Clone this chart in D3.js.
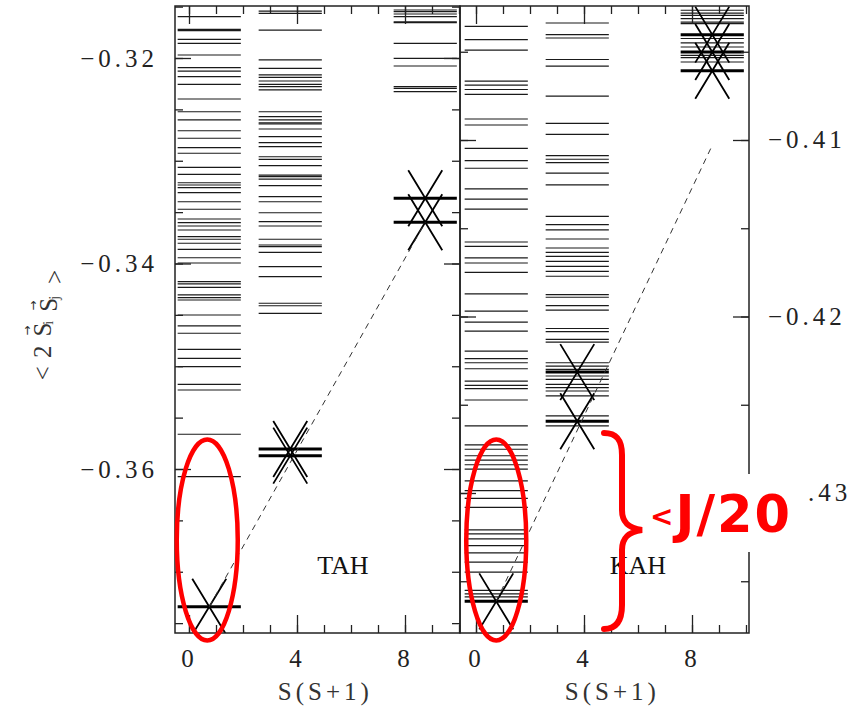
<!DOCTYPE html>
<html lang="en">
<head>
<meta charset="utf-8">
<title>TAH / KAH levels</title>
<script src="https://d3js.org/d3.v7.min.js"></script>
<style>
  body { margin: 0; background: #fff; }
  .eixo text { font-family: "Liberation Serif", "DejaVu Serif", serif; font-size: 25px; letter-spacing: 4px; fill: #222; }
  .nivel { stroke: #1a1a1a; stroke-width: 1.2; }
  .nivel-cruz { stroke: #000; stroke-width: 3; }
  .cruz { stroke: #000; stroke-width: 1.8; fill: none; }
  .reta { stroke: #333; stroke-width: 1; stroke-dasharray: 6,5; fill: none; }
  .moldura { fill: none; stroke: #222; stroke-width: 1.5; }
  .rotulo { font-family: "Liberation Serif", "DejaVu Serif", serif; font-size: 26px; fill: #111; }
  .titulo { font-family: "Liberation Serif", "DejaVu Serif", serif; font-size: 25px; letter-spacing: 4px; fill: #333; }
  .anot { fill: none; stroke: #ff0000; stroke-width: 4.5; }
</style>
</head>
<body>
<div id="chart"></div>
<script>
// S(S+1) for S = 1/2, 3/2, 5/2
var colunasS = [0.75, 3.75, 8.75];

// TAH levels, one list per S column
var tahS0 = [-0.31598, -0.31721, -0.31734, -0.31818, -0.31857, -0.31971, -0.32094, -0.32127, -0.32182, -0.32256,
  -0.32399, -0.32523, -0.32603, -0.32708, -0.32781, -0.32873, -0.32927, -0.33064, -0.33132, -0.33214, -0.33236,
  -0.33262, -0.33311, -0.33399, -0.33472, -0.33567, -0.33603, -0.33635, -0.33674, -0.33739, -0.33764, -0.33803,
  -0.33862, -0.33944, -0.33995, -0.34177, -0.34199, -0.34232, -0.34306, -0.34333, -0.34355, -0.34501, -0.34608,
  -0.34679, -0.34835, -0.34923, -0.35004, -0.35176, -0.35231, -0.35662, -0.36075];
var tahS1 = [-0.31543, -0.31565, -0.31728, -0.32019, -0.32100, -0.32165, -0.32188, -0.32224, -0.32256, -0.32279,
  -0.32311, -0.32523, -0.32571, -0.32603, -0.32630, -0.32642, -0.32691, -0.32766, -0.32824, -0.32863, -0.32961,
  -0.32986, -0.33048, -0.33139, -0.33155, -0.33178, -0.33243, -0.33350, -0.33399, -0.33506, -0.33593, -0.33635,
  -0.33764, -0.33820, -0.33836, -0.33891, -0.34031, -0.34128, -0.34387, -0.34411, -0.34485];
var tahS2 = [-0.31533, -0.31549, -0.31572, -0.31598, -0.31647, -0.31656, -0.31857, -0.32003, -0.32078, -0.32279,
  -0.32295, -0.32328];
// lowest states (crosses) and the dashed line through them
var tahCruzes = [[0.75, -0.37340], [3.75, -0.35805], [3.75, -0.35870], [8.75, -0.33365], [8.75, -0.33599]];
var tahReta = [[0.75, -0.37340], [8.75, -0.33599]];

// KAH levels
var kahS0 = [-0.40356, -0.40431, -0.40491, -0.40667, -0.40689, -0.40714, -0.40742, -0.40881, -0.40915, -0.41047,
  -0.41117, -0.41160, -0.41277, -0.41335, -0.41392, -0.41578, -0.41603, -0.41668, -0.41697, -0.41750, -0.41872,
  -0.41970, -0.42032, -0.42083, -0.42196, -0.42239, -0.42262, -0.42296, -0.42366, -0.42390, -0.42409, -0.42473,
  -0.42620, -0.42727, -0.42752, -0.42789, -0.42814, -0.42840, -0.42865, -0.42931, -0.42987, -0.43030, -0.43081,
  -0.43209, -0.43232, -0.43260, -0.43298, -0.43339, -0.43392, -0.43448, -0.43552, -0.43571, -0.43589];
var kahS1 = [-0.40337, -0.40403, -0.40422, -0.40544, -0.40582, -0.40751, -0.40906, -0.40968, -0.41089, -0.41109,
  -0.41128, -0.41188, -0.41254, -0.41433, -0.41480, -0.41509, -0.41561, -0.41612, -0.41637, -0.41659, -0.41688,
  -0.41716, -0.41744, -0.41772, -0.41876, -0.41891, -0.41938, -0.41964, -0.42068, -0.42086, -0.42130, -0.42145,
  -0.42262, -0.42281, -0.42300, -0.42337, -0.42356, -0.42384, -0.42403, -0.42422, -0.42450, -0.42563, -0.42620];
var kahS2 = [-0.40265, -0.40281, -0.40294, -0.40312, -0.40332, -0.40341, -0.40425, -0.40450, -0.40473, -0.40520,
  -0.40533, -0.40558];
var kahCruzes = [[0.75, -0.43614], [3.75, -0.42315], [3.75, -0.42593], [8.75, -0.40403], [8.75, -0.40501], [8.75, -0.40608]];
var kahReta = [[0.75, -0.43614], [8.75, -0.41030]];

// tick labels
var ticksX = [0, 4, 8];
var tahTicksY = [-0.32, -0.34, -0.36];
var kahTicksY = [-0.41, -0.42, -0.43];

var largura = 860, altura = 711;
var topo = 6, base = 633;
var meiaColuna = 1.17; // half width of a level column, in S(S+1) units

var svg = d3.select('#chart').append('svg')
  .attr('width', largura)
  .attr('height', altura);

var fmt = d3.format('.2f');

function painel(p) {
  var g = svg.append('g');
  var x = d3.scaleLinear().domain(p.dx).range([p.x0, p.x1]);
  var y = d3.scaleLinear().domain(p.dy).range([topo, base]);

  // keep the marks inside the frame
  svg.append('clipPath').attr('id', 'clip-' + p.nome)
    .append('rect')
      .attr('x', p.x0).attr('y', topo)
      .attr('width', p.x1 - p.x0).attr('height', base - topo);
  var marcas = g.append('g').attr('clip-path', 'url(#clip-' + p.nome + ')');

  // energy levels
  p.niveis.forEach(function(lista, i) {
    marcas.append('g').selectAll('line')
      .data(lista)
      .enter().append('line')
        .attr('class', 'nivel')
        .attr('x1', x(colunasS[i] - meiaColuna))
        .attr('x2', x(colunasS[i] + meiaColuna))
        .attr('y1', d => y(d))
        .attr('y2', d => y(d));
  });

  // lowest levels drawn thick, with an X on them
  marcas.append('g').selectAll('line')
    .data(p.cruzes)
    .enter().append('line')
      .attr('class', 'nivel-cruz')
      .attr('x1', d => x(d[0] - meiaColuna))
      .attr('x2', d => x(d[0] + meiaColuna))
      .attr('y1', d => y(d[1]))
      .attr('y2', d => y(d[1]));
  marcas.append('g').selectAll('path')
    .data(p.cruzes)
    .enter().append('path')
      .attr('class', 'cruz')
      .attr('d', function(d) {
        var cx = x(d[0]), cy = y(d[1]), a = 17, b = 28;
        return 'M' + (cx - a) + ',' + (cy - b) + 'L' + (cx + a) + ',' + (cy + b) +
               'M' + (cx + a) + ',' + (cy - b) + 'L' + (cx - a) + ',' + (cy + b);
      });

  marcas.append('path')
    .datum(p.reta)
    .attr('class', 'reta')
    .attr('d', d3.line().x(d => x(d[0])).y(d => y(d[1])));

  // frame
  g.append('rect')
    .attr('class', 'moldura')
    .attr('x', p.x0).attr('y', topo)
    .attr('width', p.x1 - p.x0).attr('height', base - topo);

  // inward ticks on all four sides
  var menoresX = d3.range(0, 11);
  function ticks(eixo, valores, tam, tr) {
    var a = g.append('g')
      .attr('transform', tr)
      .call(eixo.tickValues(valores).tickSize(tam).tickFormat(''));
    a.select('.domain').remove();
    a.selectAll('.tick line').attr('stroke', '#222').attr('stroke-width', 1.3);
  }
  ticks(d3.axisRight(y), p.menoresY, 8, 'translate(' + p.x0 + ',0)');
  ticks(d3.axisRight(y), p.maioresY, 16, 'translate(' + p.x0 + ',0)');
  ticks(d3.axisLeft(y), p.menoresY, 8, 'translate(' + p.x1 + ',0)');
  ticks(d3.axisLeft(y), p.maioresY, 16, 'translate(' + p.x1 + ',0)');
  ticks(d3.axisTop(x), menoresX, 8, 'translate(0,' + base + ')');
  ticks(d3.axisTop(x), ticksX, 18, 'translate(0,' + base + ')');
  ticks(d3.axisBottom(x), menoresX, 8, 'translate(0,' + topo + ')');
  ticks(d3.axisBottom(x), ticksX, 18, 'translate(0,' + topo + ')');

  // tick labels
  var eixoY = p.ladoRotulo === 'esq'
    ? d3.axisLeft(y).tickPadding(17) : d3.axisRight(y).tickPadding(19);
  var ly = g.append('g').attr('class', 'eixo')
    .attr('transform', 'translate(' + (p.ladoRotulo === 'esq' ? p.x0 : p.x1) + ',0)')
    .call(eixoY.tickValues(p.rotulosY).tickSize(0).tickFormat(p.fmtY || fmt));
  ly.select('.domain').remove();

  var lx = g.append('g').attr('class', 'eixo')
    .attr('transform', 'translate(0,' + base + ')')
    .call(d3.axisBottom(x).tickValues(ticksX).tickSize(0).tickPadding(16));
  lx.select('.domain').remove();

  g.append('text')
    .attr('class', 'titulo')
    .attr('x', x(5.05)).attr('y', 700)
    .attr('text-anchor', 'middle')
    .text('S(S+1)');

  g.append('text')
    .attr('class', 'rotulo')
    .attr('x', x(p.rotuloX)).attr('y', 574)
    .text(p.nome);

  return { x: x, y: y, g: g, ly: ly };
}

var esq = painel({
  nome: 'TAH', rotuloX: 4.75,
  x0: 175, x1: 460, dx: [-14 / 27, 271 / 27],
  dy: [-0.314939, -0.375961],
  niveis: [tahS0, tahS1, tahS2], cruzes: tahCruzes, reta: tahReta,
  menoresY: d3.range(-75, -62).map(k => k * 0.005),
  maioresY: tahTicksY, rotulosY: tahTicksY, ladoRotulo: 'esq'
});

// the "-0" of -0.43 is hidden under the annotation box in the original
var dir = painel({
  nome: 'KAH', rotuloX: 4.95,
  x0: 460, x1: 749, dx: [-16 / 27, 273 / 27],
  dy: [-0.402408, -0.437932],
  niveis: [kahS0, kahS1, kahS2], cruzes: kahCruzes, reta: kahReta,
  menoresY: d3.range(-87, -80).map(k => k * 0.005),
  maioresY: kahTicksY, rotulosY: kahTicksY, ladoRotulo: 'dir',
  fmtY: d => d === -0.43 ? '.43' : fmt(d)
});
dir.ly.selectAll('text').filter(d => d === -0.43).attr('x', 59);

// y axis title: <2 S_i S_j> with small vector arrows over the S
svg.append('text')
  .attr('class', 'titulo')
  .attr('transform', 'translate(42,325) rotate(-90)')
  .attr('text-anchor', 'middle')
  .attr('dominant-baseline', 'central')
  .style('letter-spacing', '0px')
  .call(function(t) {
    t.append('tspan').text('<');
    t.append('tspan').attr('dx', 8).text('2');
    ['i', 'j'].forEach(function(s) {
      t.append('tspan').attr('dx', 9).text('S');
      t.append('tspan').attr('dx', -13).attr('dy', -15).style('font-size', '12px')
        .style('font-family', '"DejaVu Sans", sans-serif').text('\u2192');
      t.append('tspan').attr('dx', 1).attr('dy', 21).style('font-size', '14px').text(s);
      t.append('tspan').attr('dy', -6).text('');
    });
    t.append('tspan').attr('dx', 12).text('>');
  });

// red annotations
var anot = svg.append('g');
anot.append('ellipse').attr('class', 'anot')
  .attr('cx', esq.x(colunasS[0]) - 2).attr('cy', 540).attr('rx', 30.5).attr('ry', 100.5);
anot.append('ellipse').attr('class', 'anot')
  .attr('cx', dir.x(colunasS[0])).attr('cy', 540).attr('rx', 30).attr('ry', 100.5);
anot.append('path').attr('class', 'anot')
  .style('stroke-width', 6).style('stroke-linecap', 'round')
  .attr('d', 'M604,433 C617,433 622,440 622,455 L622,510 C622,522 628,528 642,530 ' +
             'C628,532 622,538 622,550 L622,605 C622,620 617,629 604,629');
anot.append('rect')
  .attr('x', 646).attr('y', 474).attr('width', 160).attr('height', 78)
  .attr('fill', '#fff');
anot.append('text')
  .attr('x', 650).attr('y', 532)
  .attr('fill', '#ff0000')
  .style('font-family', '"DejaVu Sans", sans-serif')
  .style('font-weight', 'bold')
  .style('font-size', '51px')
  .style('letter-spacing', '2px')
  .call(function(t) {
    t.append('tspan').attr('dy', -6).style('font-size', '28px').text('<');
    t.append('tspan').attr('dy', 6).text('J/20');
  });
</script>
</body>
</html>
